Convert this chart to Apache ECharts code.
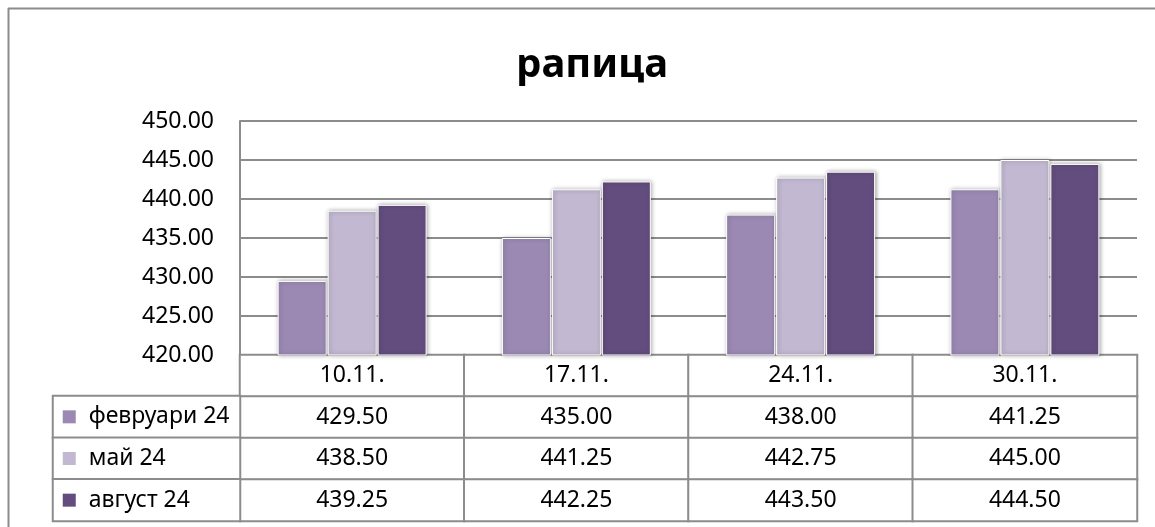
<!DOCTYPE html>
<html>
<head>
<meta charset="utf-8">
<script src="https://cdn.jsdelivr.net/npm/echarts@6/dist/echarts.min.js"></script>
<style>html,body{margin:0;padding:0;background:#fff;overflow:hidden}#c{width:1155px;height:527px}</style>
</head>
<body>
<div id="c"></div>
<script>
const title = 'рапица';
const categories = ['10.11.', '17.11.', '24.11.', '30.11.'];
const seriesNames = ['февруари 24', 'май 24', 'август 24'];
const fevruari = [429.50, 435.00, 438.00, 441.25];
const mai = [438.50, 441.25, 442.75, 445.00];
const avgust = [439.25, 442.25, 443.50, 444.50];
const yTicks = {min: 420, max: 450, interval: 5};

const seriesValues = [fevruari, mai, avgust];
const colors = ['#9b89b3', '#c2b8d1', '#634d7e'];
const FONT = 'Noto Sans';
const lineCol = '#8c8c8c';

const chart = echarts.init(document.getElementById('c'), null, {renderer: 'canvas'});

// table cells (header row + one row per series)
const tableData = [];
categories.forEach((c, xi) => tableData.push({value: [xi, 0, 0], txt: c}));
seriesValues.forEach((arr, si) => arr.forEach((v, xi) => tableData.push({value: [xi, si + 1, v], txt: v.toFixed(2)})));
const legendData = seriesNames.map((n, si) => ({value: [0, si, 0], txt: n, si: si}));

const rich = {t: {fontFamily: FONT, fontSize: 23, color: '#000', padding: [0, 0, 0, 13]}};
colors.forEach((c, i) => rich['s' + i] = {width: 13, height: 13, backgroundColor: c});

const option = {
  backgroundColor: '#fff',
  animation: false,
  title: {
    text: title, left: 587, textAlign: 'center', top: 41,
    textStyle: {fontFamily: FONT, fontWeight: 'bold', fontSize: 40, color: '#000'}
  },
  graphic: [
    {type: 'line', shape: {x1: 8.5, y1: 8, x2: 8.5, y2: 527},
     style: {stroke: lineCol, lineWidth: 2}, silent: true, z: -1},
    {type: 'line', shape: {x1: 8, y1: 8.5, x2: 1155, y2: 8.5},
     style: {stroke: lineCol, lineWidth: 2}, silent: true, z: -1}
  ],
  grid: [
    {left: 240, right: 18, top: 121, bottom: 172},
    {left: 240, right: 18, top: 355, bottom: 6},
    {left: 53, width: 187, top: 396, bottom: 6}
  ],
  xAxis: [
    {gridIndex: 0, type: 'category', data: categories, axisLabel: {show: false},
     axisTick: {show: false}, axisLine: {lineStyle: {color: lineCol, width: 2}}},
    {gridIndex: 1, type: 'category', data: categories, show: false},
    {gridIndex: 2, type: 'category', data: ['legend'], show: false}
  ],
  yAxis: [
    {gridIndex: 0, type: 'value', min: yTicks.min, max: yTicks.max, interval: yTicks.interval,
     axisLine: {show: true, lineStyle: {color: lineCol, width: 2}}, axisTick: {show: false},
     splitLine: {lineStyle: {color: lineCol, width: 2}},
     axisLabel: {formatter: v => v.toFixed(2), fontFamily: FONT, fontSize: 23, color: '#000', margin: 26}},
    {gridIndex: 1, type: 'category', data: ['h', 'r1', 'r2', 'r3'], inverse: true, show: false},
    {gridIndex: 2, type: 'category', data: seriesNames, inverse: true, show: false}
  ],
  series: [
    ...seriesNames.map((n, si) => ({
      name: n, type: 'bar', xAxisIndex: 0, yAxisIndex: 0, data: seriesValues[si],
      barWidth: 49, barGap: '2%',
      itemStyle: {color: colors[si], borderColor: '#fff', borderWidth: 1,
        shadowBlur: 4, shadowColor: 'rgba(0,0,0,0.35)', shadowOffsetX: 1, shadowOffsetY: 0},
      z: 3
    })),
    {
      type: 'heatmap', xAxisIndex: 1, yAxisIndex: 1, data: tableData,
      itemStyle: {color: '#fff', borderColor: lineCol, borderWidth: 2},
      label: {show: true, formatter: p => p.data.txt, fontFamily: FONT, fontSize: 23, color: '#000'},
      emphasis: {disabled: true}
    },
    {
      type: 'heatmap', xAxisIndex: 2, yAxisIndex: 2, data: legendData,
      itemStyle: {color: '#fff', borderColor: lineCol, borderWidth: 2},
      label: {show: true, position: 'insideLeft', distance: 11,
        formatter: p => '{s' + p.data.si + '|}{t|' + p.data.txt + '}', rich: rich},
      emphasis: {disabled: true}
    }
  ]
};
chart.setOption(option);
</script>
</body>
</html>
